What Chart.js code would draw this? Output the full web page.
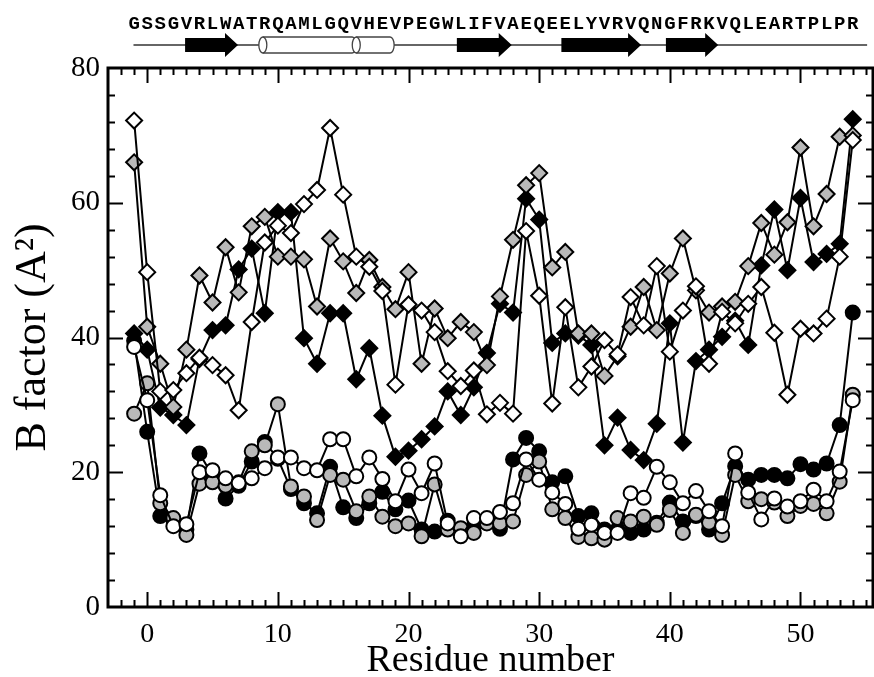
<!DOCTYPE html>
<html>
<head>
<meta charset="utf-8">
<script src="https://cdn.jsdelivr.net/npm/chart.js@4.4.0/dist/chart.umd.min.js"></script>
<style>
  html, body { margin: 0; padding: 0; background: #fff; overflow: hidden; }
  #wrap { width: 874px; height: 677px; }
  canvas { display: block; }
</style>
</head>
<body>
<div id="wrap"><canvas id="chart" width="874" height="677"></canvas></div>
<script>
// residue numbers and sequence shown on top
const residues = [-1, 0, 1, 2, 3, 4, 5, 6, 7, 8, 9, 10, 11, 12, 13, 14, 15, 16, 17, 18, 19, 20,
  21, 22, 23, 24, 25, 26, 27, 28, 29, 30, 31, 32, 33, 34, 35, 36, 37, 38, 39, 40,
  41, 42, 43, 44, 45, 46, 47, 48, 49, 50, 51, 52, 53, 54];
const sequence = "GSSGVRLWATRQAMLGQVHEVPEGWLIFVAEQEELYVRVQNGFRKVQLEARTPLPR";

// secondary structure (residue ranges)
const strands = [[2.9, 6.95], [23.7, 27.9], [31.7, 37.8], [39.7, 43.7]];
const helices = [[8.85, 16.0], [16.0, 18.9]];

// B factors
const blackDiamond = [40.6, 38.2, 29.6, 28.5, 27.0, 36.8, 41.1, 41.8, 50.1, 53.2, 43.6, 58.6, 58.6, 39.9,
  36.1, 43.6, 43.6, 33.8, 38.4, 28.4, 22.3, 23.2, 24.9, 26.8, 32.0, 28.5, 32.6, 37.7, 45.0, 43.7,
  60.6, 57.5, 39.2, 40.6, 40.3, 38.9, 24.0, 28.1, 23.3, 21.8, 27.2, 42.1, 24.4, 36.5, 38.2, 40.1,
  42.5, 38.9, 50.7, 59.0, 50.0, 60.7, 51.2, 52.4, 53.9, 72.4];
const grayDiamond = [66.0, 41.6, 36.1, 29.7, 38.2, 49.2, 45.2, 53.4, 46.7, 56.5, 57.9, 52.0, 52.0, 51.6,
  44.6, 54.7, 51.3, 46.6, 51.5, 47.5, 44.2, 49.7, 36.1, 44.3, 39.9, 42.3, 40.8, 35.9, 46.1, 54.5,
  62.6, 64.4, 50.4, 52.7, 40.6, 40.6, 34.3, 37.2, 41.6, 47.5, 41.1, 49.5, 54.7, 47.0, 43.7, 44.6,
  45.3, 50.6, 57.0, 52.3, 57.1, 68.2, 56.5, 61.3, 69.8, 70.0];
const whiteDiamond = [72.2, 49.7, 32.0, 32.2, 34.7, 37.0, 35.9, 34.4, 29.2, 42.3, 54.1, 56.6, 55.5, 59.8,
  61.9, 71.1, 61.2, 52.0, 50.5, 46.9, 33.0, 44.9, 44.0, 40.8, 35.0, 32.8, 35.1, 28.6, 30.3, 28.7,
  55.8, 46.2, 30.2, 44.5, 32.6, 35.7, 39.6, 37.5, 46.0, 41.8, 50.6, 37.9, 44.0, 47.6, 36.1, 43.8,
  42.1, 45.0, 47.5, 40.7, 31.5, 41.3, 40.6, 42.8, 52.0, 69.3];
const blackCircle = [39.5, 26.0, 13.5, 13.0, 11.5, 22.8, 19.5, 16.1, 18.0, 21.6, 24.5, 22.0, 17.5, 15.4,
  13.9, 20.8, 14.8, 13.2, 15.4, 17.1, 14.5, 15.8, 11.5, 11.2, 12.8, 11.5, 12.0, 12.5, 11.6, 21.9,
  25.1, 23.1, 18.5, 19.4, 13.5, 13.9, 11.5, 11.5, 11.0, 11.5, 12.5, 15.5, 12.7, 13.5, 11.5, 15.4,
  20.9, 18.9, 19.6, 19.6, 19.1, 21.2, 20.4, 21.3, 27.0, 43.7];
const grayCircle = [28.7, 33.2, 15.4, 13.2, 10.7, 18.3, 18.5, 18.0, 18.5, 23.1, 24.0, 30.1, 17.9, 16.4,
  12.9, 19.6, 18.9, 14.2, 16.4, 13.4, 12.0, 12.4, 10.5, 18.2, 11.5, 11.7, 11.0, 12.4, 12.4, 12.7,
  19.6, 21.6, 14.5, 13.2, 10.4, 10.2, 10.0, 13.2, 12.7, 13.4, 12.2, 14.4, 11.0, 13.7, 12.5, 10.7,
  19.6, 15.7, 16.0, 15.5, 13.5, 15.0, 15.3, 13.9, 18.6, 31.5];
const whiteCircle = [38.6, 30.7, 16.6, 12.0, 12.3, 20.0, 20.3, 19.1, 18.4, 19.1, 20.6, 22.2, 22.2, 20.6,
  20.3, 24.9, 24.9, 19.4, 22.2, 19.0, 15.7, 20.4, 16.9, 21.3, 12.4, 10.5, 13.2, 13.2, 14.1, 15.4,
  21.9, 18.9, 17.0, 15.3, 11.6, 12.2, 11.0, 11.0, 16.9, 16.2, 20.8, 18.5, 15.4, 17.2, 14.2, 12.0,
  22.8, 17.0, 13.0, 16.1, 14.9, 15.7, 17.4, 15.7, 20.1, 30.7];

const xTicks = [0, 10, 20, 30, 40, 50];
const yTicks = [0, 20, 40, 60, 80];

const GRAY = "#b9b9b9";
const SERIF = "'Liberation Serif', 'Times New Roman', serif";

function pts(values) {
  return residues.map((r, i) => ({ x: r, y: values[i] }));
}

function series(values, fill, style) {
  return {
    data: pts(values),
    showLine: true,
    borderColor: "#000",
    borderWidth: 2,
    pointStyle: style,
    pointRadius: style === "rectRot" ? 8 : 7,
    pointBackgroundColor: fill,
    pointBorderColor: "#000",
    pointBorderWidth: 2,
    tension: 0
  };
}

// frame with inward ticks on all sides
const frameTicks = {
  id: "frameTicks",
  afterDraw(chart) {
    const { ctx, chartArea: a, scales: { x, y } } = chart;
    ctx.save();
    ctx.strokeStyle = "#000";
    ctx.lineWidth = 2;
    ctx.beginPath();
    for (let v = -2; v <= 55; v++) {
      const len = xTicks.includes(v) ? 15 : 7;
      const px = Math.round(x.getPixelForValue(v)) + 0.5;
      ctx.moveTo(px, a.bottom); ctx.lineTo(px, a.bottom - len);
      ctx.moveTo(px, a.top); ctx.lineTo(px, a.top + len);
    }
    for (let v = 4; v < 80; v += 4) {
      const len = yTicks.includes(v) ? 15 : 7;
      const py = Math.round(y.getPixelForValue(v)) + 0.5;
      ctx.moveTo(a.left, py); ctx.lineTo(a.left + len, py);
      ctx.moveTo(a.right, py); ctx.lineTo(a.right - len, py);
    }
    ctx.stroke();
    ctx.lineWidth = 3;
    ctx.strokeRect(a.left, a.top, a.right - a.left, a.bottom - a.top);
    ctx.restore();
  }
};

// sequence and secondary structure above the plot
const topTrack = {
  id: "topTrack",
  afterDraw(chart) {
    const { ctx, scales: { x } } = chart;
    ctx.save();
    ctx.fillStyle = "#000";
    ctx.font = "bold 19px 'Liberation Mono', 'DejaVu Sans Mono', monospace";
    ctx.textAlign = "center";
    ctx.textBaseline = "alphabetic";
    residues.forEach((r, i) => {
      ctx.fillText(sequence[i], x.getPixelForValue(r), 29);
    });

    const yc = 45;
    ctx.strokeStyle = "#333";
    ctx.lineWidth = 1.5;
    ctx.beginPath();
    ctx.moveTo(x.getPixelForValue(-1.05), yc);
    ctx.lineTo(x.getPixelForValue(55.1), yc);
    ctx.stroke();

    strands.forEach(([s, e]) => {
      const x0 = x.getPixelForValue(s), x1 = x.getPixelForValue(e);
      const head = 13;
      ctx.beginPath();
      ctx.moveTo(x0, yc - 7);
      ctx.lineTo(x1 - head, yc - 7);
      ctx.lineTo(x1 - head, yc - 12);
      ctx.lineTo(x1, yc);
      ctx.lineTo(x1 - head, yc + 12);
      ctx.lineTo(x1 - head, yc + 7);
      ctx.lineTo(x0, yc + 7);
      ctx.closePath();
      ctx.fill();
    });

    ctx.strokeStyle = "#444";
    ctx.lineWidth = 1.3;
    helices.forEach(([s, e]) => {
      const x0 = x.getPixelForValue(s), x1 = x.getPixelForValue(e);
      const rx = 4, ry = 8;
      ctx.beginPath();
      ctx.moveTo(x0, yc - ry);
      ctx.lineTo(x1 - rx, yc - ry);
      ctx.ellipse(x1 - rx, yc, rx, ry, 0, -Math.PI / 2, Math.PI / 2);
      ctx.lineTo(x0, yc + ry);
      ctx.ellipse(x0, yc, rx, ry, 0, Math.PI / 2, Math.PI * 1.5);
      ctx.closePath();
      ctx.fillStyle = "#fff";
      ctx.fill();
      ctx.stroke();
      ctx.beginPath();
      ctx.ellipse(x0, yc, rx, ry, 0, -Math.PI / 2, Math.PI / 2);
      ctx.stroke();
    });
    ctx.restore();
  }
};

new Chart(document.getElementById("chart"), {
  type: "scatter",
  data: {
    datasets: [
      series(whiteCircle, "#fff", "circle"),
      series(grayCircle, GRAY, "circle"),
      series(blackCircle, "#000", "circle"),
      series(whiteDiamond, "#fff", "rectRot"),
      series(grayDiamond, GRAY, "rectRot"),
      series(blackDiamond, "#000", "rectRot")
    ]
  },
  options: {
    responsive: false,
    animation: false,
    layout: { autoPadding: false, padding: { top: 68, right: 1, left: 0, bottom: 0 } },
    plugins: { legend: { display: false }, tooltip: { enabled: false } },
    scales: {
      x: {
        type: "linear",
        min: -3,
        max: 55.55,
        grid: { display: false, drawTicks: false },
        border: { display: false },
        afterBuildTicks: (s) => { s.ticks = xTicks.map(v => ({ value: v })); },
        afterFit: (s) => { s.height = 70; },
        ticks: {
          padding: 11,
          color: "#000",
          maxRotation: 0,
          font: { family: SERIF, size: 28 }
        },
        title: {
          display: true,
          text: "Residue number",
          color: "#000",
          padding: { top: 0, bottom: 0 },
          font: { family: SERIF, size: 38, lineHeight: 0.85 }
        }
      },
      y: {
        min: 0,
        max: 80,
        grid: { display: false, drawTicks: false },
        border: { display: false },
        afterBuildTicks: (s) => { s.ticks = yTicks.map(v => ({ value: v })); },
        afterFit: (s) => { s.width = 108; },
        ticks: {
          padding: 8,
          color: "#000",
          font: { family: SERIF, size: 29 }
        },
        title: {
          display: true,
          text: "B factor (A²)",
          color: "#000",
          padding: { top: 11, bottom: 0 },
          font: { family: SERIF, size: 44, lineHeight: 1 }
        }
      }
    }
  },
  plugins: [frameTicks, topTrack]
});
</script>
</body>
</html>
